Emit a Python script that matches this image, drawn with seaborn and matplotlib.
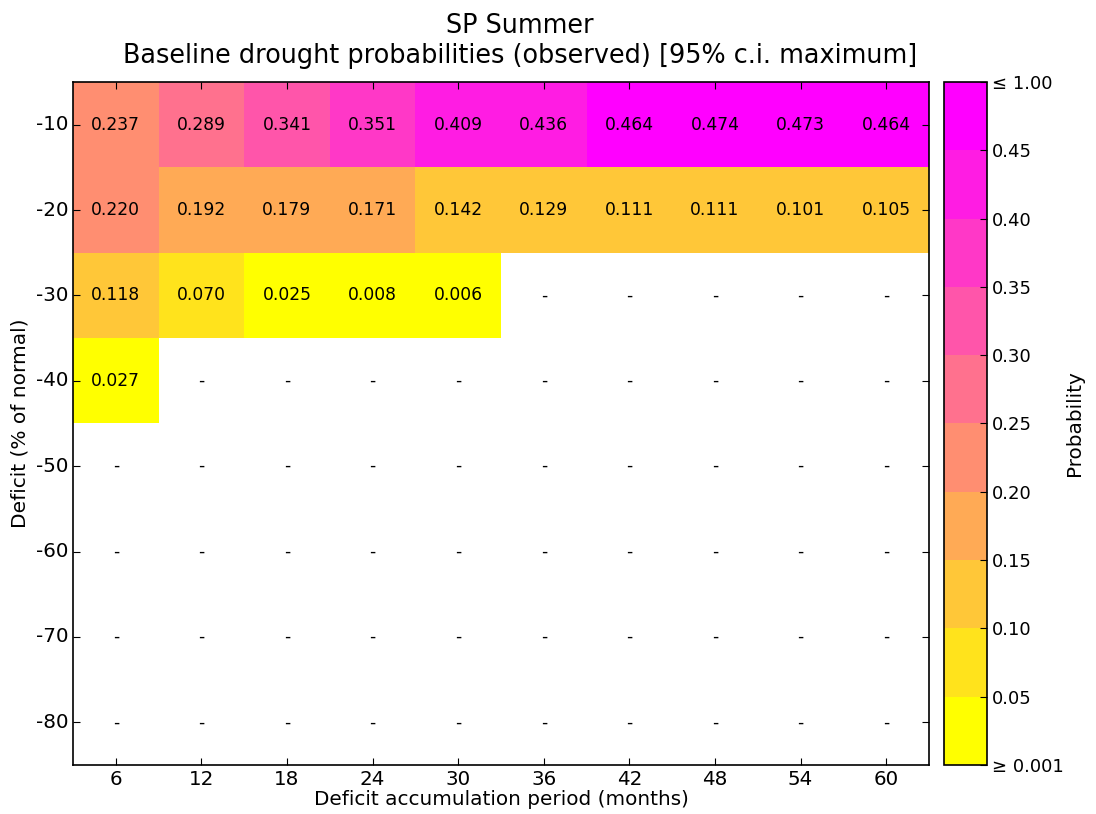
import numpy as np
import pandas as pd
import matplotlib
matplotlib.use('Agg')
import matplotlib.pyplot as plt
import seaborn as sns
from matplotlib.colors import ListedColormap, BoundaryNorm

periods = [6, 12, 18, 24, 30, 36, 42, 48, 54, 60]
deficits = [-10, -20, -30, -40, -50, -60, -70, -80]

nan = np.nan
row_10 = [0.237, 0.289, 0.341, 0.351, 0.409, 0.436, 0.464, 0.474, 0.473, 0.464]
row_20 = [0.220, 0.192, 0.179, 0.171, 0.142, 0.129, 0.111, 0.111, 0.101, 0.105]
row_30 = [0.118, 0.070, 0.025, 0.008, 0.006, nan, nan, nan, nan, nan]
row_40 = [0.027, nan, nan, nan, nan, nan, nan, nan, nan, nan]
row_empty = [nan] * 10

levels = [0.001, 0.05, 0.10, 0.15, 0.20, 0.25, 0.30, 0.35, 0.40, 0.45, 1.00]
level_labels = ['\u2265 0.001', '0.05', '0.10', '0.15', '0.20', '0.25',
                '0.30', '0.35', '0.40', '0.45', '\u2264 1.00']

df = pd.DataFrame([row_10, row_20, row_30, row_40,
                   row_empty, row_empty, row_empty, row_empty],
                  index=deficits, columns=periods)

# 10 discrete steps of spring_r
base = plt.get_cmap('spring_r')
cmap = ListedColormap([base(i / 9) for i in range(10)])
norm = BoundaryNorm(levels, cmap.N)

labels = df.map(lambda v: '' if np.isnan(v) else '%.3f' % v)

fig = plt.figure(figsize=(10.96, 8.14), dpi=100)
ax = fig.add_axes([0.0666, 0.0602, 0.781, 0.8391])
cax = fig.add_axes([0.8613, 0.0602, 0.0392, 0.8391])

sns.heatmap(df, ax=ax, cbar_ax=cax, cmap=cmap, norm=norm,
            annot=labels.values, fmt='', annot_kws={'color': 'black', 'fontsize': 12.3},
            cbar_kws={'spacing': 'uniform', 'ticks': levels})

# dashes where there is no value
for i in range(len(deficits)):
    for j in range(len(periods)):
        if np.isnan(df.values[i, j]):
            ax.text(j + 0.5, i + 0.5, '-', ha='center', va='center', fontsize=12.3)

for s in ax.spines.values():
    s.set_visible(True)
    s.set_linewidth(1.2)
ax.tick_params(direction='in', top=True, right=True, length=5, labelsize=14.3)
ax.set_xticklabels([str(p) for p in periods], rotation=0)
ax.set_yticklabels([str(d) for d in deficits], rotation=0)
ax.set_xlabel('Deficit accumulation period (months)', fontsize=14.4, labelpad=1)
ax.set_ylabel('Deficit (% of normal)', fontsize=14.5)
ax.set_title('SP Summer\nBaseline drought probabilities (observed) [95% c.i. maximum]',
             fontsize=18.4, pad=13.5, x=0.522)

cbar = ax.collections[0].colorbar
cbar.outline.set_visible(True)
cbar.outline.set_linewidth(1.2)
cbar.outline.set_edgecolor('black')
cbar.ax.set_yticklabels(level_labels)
cbar.ax.tick_params(direction='in', length=5, labelsize=13)
cbar.set_label('Probability', fontsize=14.4, labelpad=1)

fig.savefig('out.png', dpi=100)
